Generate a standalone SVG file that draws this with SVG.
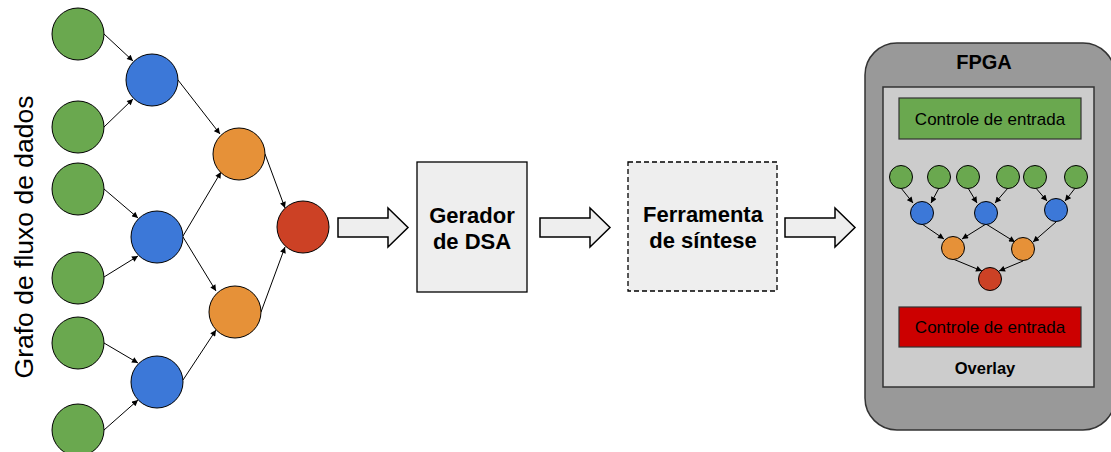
<svg xmlns="http://www.w3.org/2000/svg" width="1111" height="452" viewBox="0 0 1111 452">
<defs>
<marker id="ah" viewBox="0 0 10 10" refX="10" refY="5" markerWidth="7" markerHeight="6" markerUnits="userSpaceOnUse" orient="auto">
<path d="M0,0 L10,5 L0,10 z" fill="#000"/>
</marker>
</defs>
<style>
.g{fill:#6aa84f;stroke:#000;stroke-width:1}
.b{fill:#3c78d8;stroke:#000;stroke-width:1}
.o{fill:#e69138;stroke:#000;stroke-width:1}
.r{fill:#cc4125;stroke:#000;stroke-width:1}
.e{stroke:#000;stroke-width:1;fill:none;marker-end:url(#ah)}
.blk{fill:#eeeeee;stroke:#000;stroke-width:1.5}
.t{font-family:"Liberation Sans",Arial,sans-serif;fill:#000}
.bold{font-weight:bold}
</style>
<rect width="1111" height="452" fill="#fff"/>

<text class="t" x="0" y="0" font-size="26.5" text-anchor="middle" transform="translate(33,237) rotate(-90)">Grafo de fluxo de dados</text>

<g id="connectors">
<line class="e" x1="104" y1="34" x2="133" y2="61"/>
<line class="e" x1="104" y1="127" x2="133" y2="99"/>
<line class="e" x1="178" y1="80" x2="220" y2="134"/>
<line class="e" x1="104" y1="189" x2="138" y2="218"/>
<line class="e" x1="104" y1="277" x2="138" y2="256"/>
<line class="e" x1="183" y1="236" x2="221" y2="172"/>
<line class="e" x1="183" y1="237" x2="216" y2="291"/>
<line class="e" x1="104" y1="343" x2="138" y2="363"/>
<line class="e" x1="104" y1="430" x2="138" y2="400"/>
<line class="e" x1="183" y1="380" x2="216" y2="330"/>
<line class="e" x1="265" y1="154" x2="285" y2="208"/>
<line class="e" x1="261" y1="312" x2="285" y2="247"/>
<polygon class="blk" points="338,218 388,218 388,208 408,227.5 388,247 388,237 338,237"/>
<polygon class="blk" points="540,218 590,218 590,208 610,227.5 590,247 590,237 540,237"/>
<polygon class="blk" points="785,218 835,218 835,208 855,227.5 835,247 835,237 785,237"/>
</g>

<g id="g1"><circle class="g" cx="78" cy="34" r="26"/></g>
<g id="g2"><circle class="g" cx="78" cy="127" r="26"/></g>
<g id="g3"><circle class="g" cx="78" cy="189" r="26"/></g>
<g id="g4"><circle class="g" cx="78" cy="278" r="26"/></g>
<g id="g5"><circle class="g" cx="78" cy="343" r="26"/></g>
<g id="g6"><circle class="g" cx="78" cy="430" r="26"/></g>
<g id="b1"><circle class="b" cx="152" cy="80" r="26"/></g>
<g id="b2"><circle class="b" cx="157" cy="237" r="26"/></g>
<g id="b3"><circle class="b" cx="157" cy="382" r="26"/></g>
<g id="o1"><circle class="o" cx="239" cy="154" r="26"/></g>
<g id="o2"><circle class="o" cx="235" cy="312" r="26"/></g>
<g id="r1"><circle class="r" cx="303" cy="227" r="26"/></g>

<g id="gerador">
<rect x="417" y="162" width="110" height="130" fill="#eeeeee" stroke="#000" stroke-width="1.3"/>
<text class="t bold" x="472" y="223" font-size="22" text-anchor="middle">Gerador</text>
<text class="t bold" x="472" y="249" font-size="22" text-anchor="middle">de DSA</text>
</g>

<g id="ferramenta">
<rect x="628" y="162" width="149" height="129" fill="#eeeeee" stroke="#000" stroke-width="1.3" stroke-dasharray="5,3"/>
<text class="t bold" x="703" y="222" font-size="22" text-anchor="middle">Ferramenta</text>
<text class="t bold" x="703" y="248" font-size="22" text-anchor="middle">de síntese</text>
</g>

<g id="fpga">
<rect x="865" y="43" width="250" height="387" rx="32" ry="32" fill="#999999" stroke="#333" stroke-width="1.5"/>
<text class="t bold" x="984" y="69" font-size="20" text-anchor="middle">FPGA</text>
</g>

<g id="overlay">
<rect x="883" y="87" width="211" height="300" fill="#cccccc" stroke="#333" stroke-width="1.5"/>
<text class="t bold" x="985" y="374" font-size="16.5" text-anchor="middle">Overlay</text>
</g>

<g id="ctrl-in">
<rect x="899" y="98" width="182" height="41" fill="#6aa84f" stroke="#333" stroke-width="1.2"/>
<text class="t" x="990" y="125" font-size="17" text-anchor="middle">Controle de entrada</text>
</g>

<g id="ctrl-out">
<rect x="899" y="307" width="182" height="40" fill="#cc0000" stroke="#333" stroke-width="1.2"/>
<text class="t" x="990" y="333" font-size="17" text-anchor="middle">Controle de entrada</text>
</g>

<g id="small-connectors">
<line class="e" x1="901" y1="188" x2="913" y2="203"/>
<line class="e" x1="939" y1="188" x2="931" y2="203"/>
<line class="e" x1="968" y1="188" x2="977" y2="203"/>
<line class="e" x1="1008" y1="188" x2="995" y2="203"/>
<line class="e" x1="1035" y1="187" x2="1047" y2="201"/>
<line class="e" x1="1076" y1="187" x2="1065" y2="201"/>
<line class="e" x1="922" y1="224" x2="944" y2="239"/>
<line class="e" x1="986" y1="224" x2="962" y2="239"/>
<line class="e" x1="986" y1="224" x2="1015" y2="242"/>
<line class="e" x1="1056" y1="222" x2="1033" y2="242"/>
<line class="e" x1="953" y1="259" x2="982" y2="271"/>
<line class="e" x1="1023" y1="261" x2="999" y2="271"/>
</g>

<g id="sg1"><circle class="g" cx="901" cy="177" r="11.5"/></g>
<g id="sg2"><circle class="g" cx="939" cy="177" r="11.5"/></g>
<g id="sg3"><circle class="g" cx="968" cy="177" r="11.5"/></g>
<g id="sg4"><circle class="g" cx="1008" cy="177" r="11.5"/></g>
<g id="sg5"><circle class="g" cx="1035" cy="177" r="11.5"/></g>
<g id="sg6"><circle class="g" cx="1076" cy="177" r="11.5"/></g>
<g id="sb1"><circle class="b" cx="922" cy="213" r="11.5"/></g>
<g id="sb2"><circle class="b" cx="986" cy="213" r="11.5"/></g>
<g id="sb3"><circle class="b" cx="1056" cy="210" r="11.5"/></g>
<g id="so1"><circle class="o" cx="953" cy="248" r="11.5"/></g>
<g id="so2"><circle class="o" cx="1023" cy="249" r="11.5"/></g>
<g id="sr1"><circle class="r" cx="990" cy="279" r="11.5"/></g>
</svg>
